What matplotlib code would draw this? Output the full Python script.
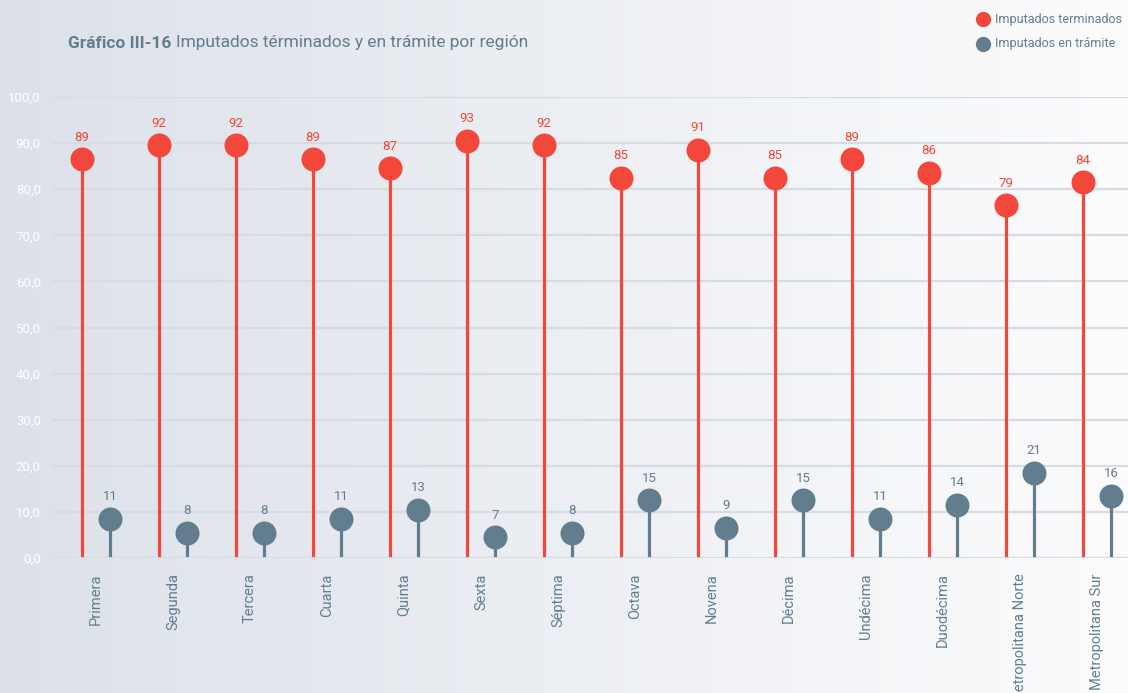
import matplotlib.pyplot as plt
import matplotlib.transforms as mtransforms
from matplotlib.lines import Line2D
import numpy as np

regiones = ["Primera", "Segunda", "Tercera", "Cuarta", "Quinta", "Sexta", "Séptima",
            "Octava", "Novena", "Décima", "Undécima", "Duodécima",
            "Metropolitana Norte", "Metropolitana Sur"]
terminados = [89, 92, 92, 89, 87, 93, 92, 85, 91, 85, 89, 86, 79, 84]
en_tramite = [11, 8, 8, 11, 13, 7, 8, 15, 9, 15, 11, 14, 21, 16]
yticks = [0, 10, 20, 30, 40, 50, 60, 70, 80, 90, 100]
series_names = ["Imputados terminados", "Imputados en trámite"]

RED = "#f2473a"
SLATE = "#627d8e"
plt.rcParams["font.family"] = ["Roboto", "DejaVu Sans"]

W, H = 1128, 693
fig = plt.figure(figsize=(W / 100, H / 100), dpi=100)

# background gradient
bg = fig.add_axes([0, 0, 1, 1], zorder=-10)
grad = np.linspace(0, 1, 256)[None, :]
left = np.array([220, 225, 233]) / 255
right = np.array([252, 252, 253]) / 255
img = left[None, None, :] * (1 - grad[..., None]) + right[None, None, :] * grad[..., None]
bg.imshow(img, aspect="auto", extent=[0, 1, 0, 1])
bg.axis("off")

ax = fig.add_axes([52 / W, 1 - 558 / H, 1 - 52 / W, 461 / H])
ax.patch.set_alpha(0)
ax.set_xlim(-0.571, 13.403)
ax.set_ylim(0, 100)

for y in yticks:
    ax.axhline(y, color="#d6dce4", lw=1.6, zorder=0)

x = np.arange(len(regiones))
dx = 14 / 77
r_pt = 11.5 * 72 / 100  # marker radius in points
down = mtransforms.offset_copy(ax.transData, fig=fig, x=0, y=-r_pt, units="points")
up = mtransforms.offset_copy(ax.transData, fig=fig, x=0, y=3, units="points")

for i in range(len(regiones)):
    xr = x[i] - dx
    xb = x[i] + dx
    ax.plot([xr, xr], [0.6, terminados[i] - 3], color=RED, lw=2.3, zorder=2, clip_on=False)
    ax.plot([xb, xb], [0.6, en_tramite[i] - 3], color=SLATE, lw=2.3, zorder=2, clip_on=False)
    ax.plot(xr, terminados[i], "o", ms=24 * 0.72, color=RED, mec="none",
            transform=down, zorder=3, clip_on=False)
    ax.plot(xb, en_tramite[i], "o", ms=24 * 0.72, color=SLATE, mec="none",
            transform=down, zorder=3, clip_on=False)
    ax.text(xr, terminados[i], str(terminados[i]), color=RED, fontsize=9.5,
            ha="center", va="bottom", transform=up)
    ax.text(xb, en_tramite[i], str(en_tramite[i]), color=SLATE, fontsize=9.5,
            ha="center", va="bottom", transform=up)

ax.set_yticks(yticks)
ax.set_yticklabels([f"{v},0" for v in yticks], color="white", fontsize=9.5)
ax.set_xticks(x)
ax.set_xticklabels(regiones, rotation=90, color=SLATE, fontsize=10.5, va="top")
ax.tick_params(length=0)
ax.tick_params(axis="x", pad=11)
ax.tick_params(axis="y", pad=8)
for s in ax.spines.values():
    s.set_visible(False)

t1 = fig.text(68 / W, 1 - 43 / H, "Gráfico III-16", color=SLATE, fontsize=12.5,
              fontweight="bold", va="center", ha="left")
fig.canvas.draw()
bb = t1.get_window_extent()
fig.text((bb.x1 + 5) / W, 1 - 43 / H, "Imputados términados y en trámite por región",
         color=SLATE, fontsize=12.5, va="center", ha="left")

# legend
for name, color, ypx in zip(series_names, [RED, SLATE], [19, 44]):
    fig.add_artist(Line2D([983 / W], [1 - ypx / H], marker="o", ls="none", color=color,
                          ms=11, mec="none", transform=fig.transFigure))
    fig.text(995 / W, 1 - ypx / H, name, color=SLATE, fontsize=9,
             va="center", ha="left")

fig.savefig("out.png", dpi=100)
